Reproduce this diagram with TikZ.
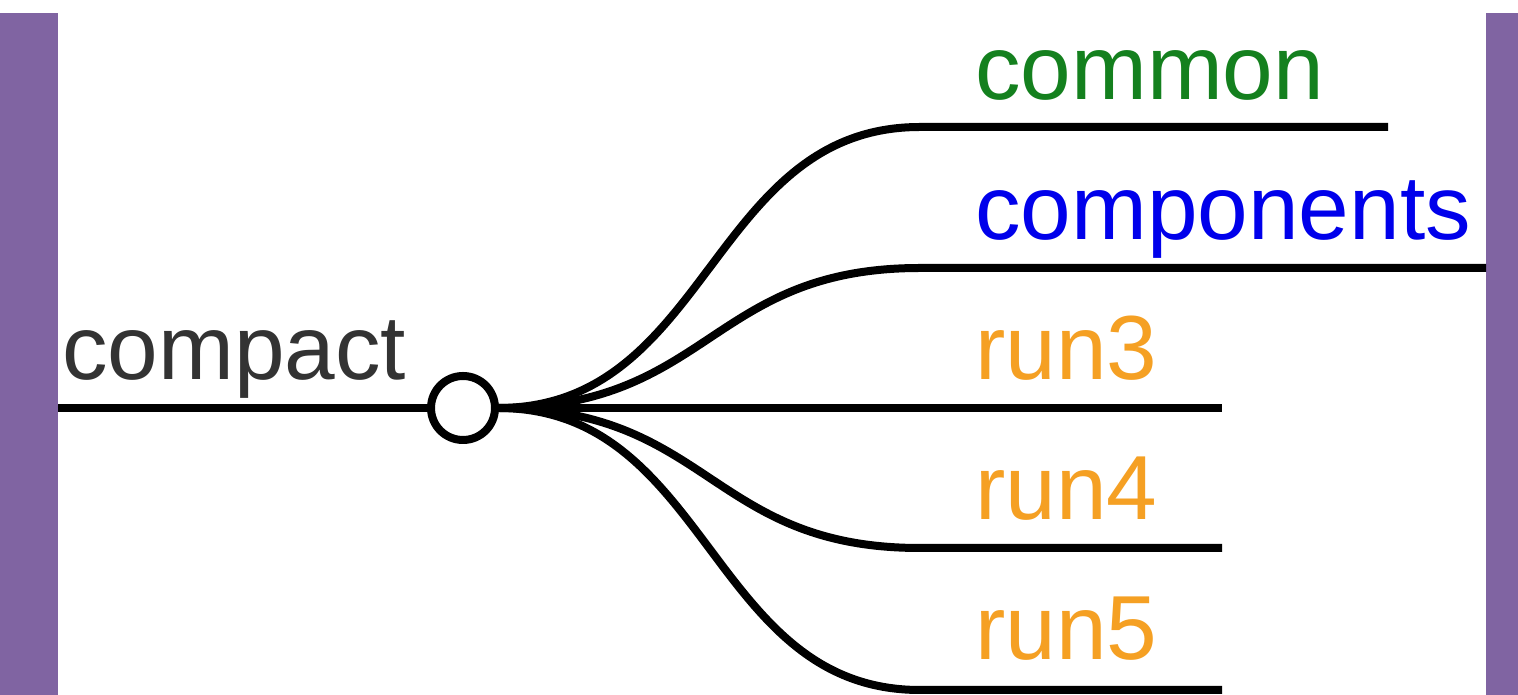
\documentclass[tikz,border=0pt]{standalone}
\usepackage{fontspec}
\setmainfont{Liberation Sans}
\definecolor{bar}{RGB}{128,100,162}
\definecolor{txtgray}{RGB}{51,51,51}
\definecolor{tgreen}{RGB}{20,128,30}
\definecolor{tblue}{RGB}{0,0,235}
\definecolor{torange}{RGB}{245,160,35}
\begin{document}
\begin{tikzpicture}[x=1pt,y=1pt,
  lbl/.style={anchor=base west,inner sep=0pt,font=\fontsize{91}{100}\selectfont},
  wire/.style={line width=8pt,black},
  knot/.style={circle,draw,line width=8pt,fill=white,minimum size=64pt,inner sep=0pt}]
\useasboundingbox (0,0) rectangle (1518,695);
\fill[white] (0,0) rectangle (1518,695);
\fill[bar] (0,0) rectangle (58,682);
\fill[bar] (1486,0) rectangle (1518,682);
% root
\coordinate (r0) at (58,287);
\node[lbl,text=txtgray] (compact) at (62,315) {compact};
% branch end coordinates
\coordinate (e1) at (920,568); \coordinate (f1) at (1388,568);
\coordinate (e2) at (920,427); \coordinate (f2) at (1486,427);
\coordinate (e3) at (920,287); \coordinate (f3) at (1222,287);
\coordinate (e4) at (920,147); \coordinate (f4) at (1222,147);
\coordinate (e5) at (920,5);   \coordinate (f5) at (1222,5);
\node[lbl,text=tgreen] (common) at (975,595) {common};
\node[lbl,text=tblue] (components) at (975,455) {components};
\node[lbl,text=torange] (run3) at (975,315) {run3};
\node[lbl,text=torange] (run4) at (975,175) {run4};
\node[lbl,text=torange] (run5) at (975,35) {run5};
\draw[wire] (r0) -- (440,287);
\foreach \i in {1,...,5}{
  \draw[wire] (498,287) .. controls (710,287) and (710,0|-e\i) .. (e\i) -- (f\i);
}
\node[knot] (k) at (463,287) {};
\end{tikzpicture}
\end{document}
